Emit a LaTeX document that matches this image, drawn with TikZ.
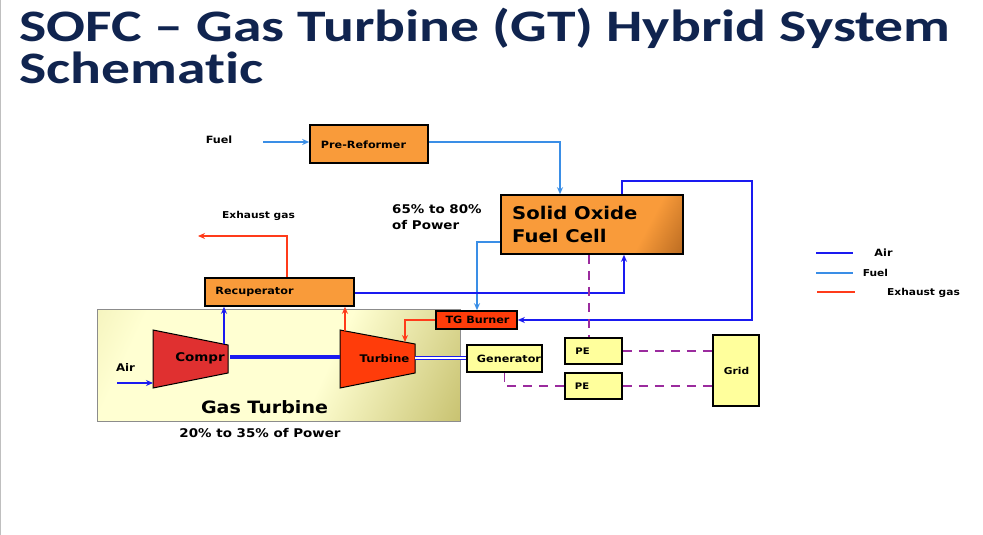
\documentclass[tikz,border=0pt]{standalone}
\usepackage{fontspec}
\usetikzlibrary{arrows.meta}
\newfontfamily\titlefont[Ligatures={TeX,NoCommon}]{Carlito}
\newfontfamily\lblfont{DejaVu Sans}

\definecolor{titleblue}{HTML}{10244F}
\definecolor{airblue}{HTML}{1A1AF0}
\definecolor{fuelblue}{HTML}{3A8EE6}
\definecolor{exhred}{HTML}{FF3B1A}
\definecolor{boxorange}{HTML}{F99B3A}
\definecolor{sofcdark}{HTML}{7A3A08}
\definecolor{burnerred}{HTML}{FF3C0A}
\definecolor{comprred}{HTML}{E03030}
\definecolor{elecyellow}{HTML}{FFFF9C}
\definecolor{elecpurple}{HTML}{9B2B9E}
\definecolor{gtlight}{HTML}{FFFFD2}
\definecolor{gtmid}{HTML}{E2DE98}
\definecolor{gtdark}{HTML}{A49A30}

\pgfdeclarehorizontalshading{sofcshade}{100bp}{color(0bp)=(sofcdark); color(16bp)=(boxorange); color(68bp)=(boxorange); color(100bp)=(sofcdark)}
\pgfdeclarehorizontalshading{gtshade}{100bp}{color(0bp)=(gtmid); color(25bp)=(gtlight); color(58bp)=(gtlight); color(100bp)=(gtdark)}

\tikzset{
  box/.style={draw=black, line width=1.6pt, inner sep=0pt},
  lbl/.style={font=\lblfont\bfseries\fontsize{10}{12}\selectfont, text=black, inner sep=0pt, xscale=1.12},
  ttl/.style={font=\titlefont\bfseries\fontsize{45}{45}\selectfont, text=titleblue, anchor=base west, inner sep=0pt, xscale=1.28},
  airln/.style={draw=airblue, line width=1.7pt},
  fuelln/.style={draw=fuelblue, line width=1.7pt},
  exhln/.style={draw=exhred, line width=1.7pt},
  elec/.style={draw=elecpurple, line width=1.8pt, dash pattern=on 9pt off 7pt},
  flow/.style={-{Stealth[length=7pt,width=6pt]}},
}

\begin{document}
\begin{tikzpicture}[x=1pt,y=-1pt]
\useasboundingbox (0,0) rectangle (983,535);
\fill[white] (0,0) rectangle (983,535);
\draw[black!25,line width=1pt] (0.5,0) -- (0.5,535);

\node[ttl] (title1) at (19,42) {SOFC \textendash{} Gas Turbine (GT) Hybrid System};
\node[ttl] (title2) at (19,84) {Schematic};

% gas turbine block
\node[draw=black!45,line width=1pt,shading=gtshade,shading angle=-25,minimum width=363pt,minimum height=112pt,inner sep=0pt] (gt) at (278.5,365) {};
\draw[black,line width=1pt,fill=comprred] (153,330) -- (228,345) -- (228,373) -- (153,388) -- cycle;
\draw[black,line width=1pt,fill=burnerred] (340,330) -- (415,344) -- (415,373) -- (340,388) -- cycle;
\coordinate (comptop) at (224,344);
\coordinate (compout) at (230,357);
\coordinate (turbin) at (340,357);
\coordinate (turbtop) at (345,331);
\coordinate (turbburn) at (405,342);
\coordinate (turbout) at (415,358);
\coordinate (airin) at (117,383);
\coordinate (comparr) at (153,383);

% boxes
\node[box,fill=boxorange,minimum width=118pt,minimum height=38pt] (pre) at (369,144) {};
\node[box,shading=sofcshade,shading angle=-28,minimum width=182pt,minimum height=59pt] (sofc) at (592,224.5) {};
\node[box,fill=boxorange,minimum width=149pt,minimum height=28pt] (recup) at (279.5,292) {};
\node[box,fill=burnerred,minimum width=81pt,minimum height=18pt] (burner) at (476.5,320) {};
\node[box,fill=elecyellow,minimum width=75pt,minimum height=27pt] (gen) at (504.5,358.5) {};
\node[box,fill=elecyellow,minimum width=57pt,minimum height=26pt] (pe1) at (593.5,351) {};
\node[box,fill=elecyellow,minimum width=57pt,minimum height=26pt] (pe2) at (593.5,386) {};
\node[box,fill=elecyellow,minimum width=46pt,minimum height=71pt] (grid) at (736,370.5) {};

% labels
\node[lbl] (fuellbl) at (219,140) {Fuel};
\node[lbl] (prelbl) at (363.5,145) {Pre-Reformer};
\node[lbl,font=\lblfont\bfseries\fontsize{12}{14}\selectfont,anchor=west] (pow1) at (392,209) {65\% to 80\%};
\node[lbl,font=\lblfont\bfseries\fontsize{12}{14}\selectfont,anchor=west] (pow2) at (392,225) {of Power};
\node[lbl,font=\lblfont\bfseries\fontsize{17.5}{20}\selectfont,anchor=west] (sofc1) at (512,212.5) {Solid Oxide};
\node[lbl,font=\lblfont\bfseries\fontsize{17.5}{20}\selectfont,anchor=west] (sofc2) at (512,236) {Fuel Cell};
\node[lbl,font=\lblfont\bfseries\fontsize{9.5}{12}\selectfont] (exhlbl) at (258.5,216) {Exhaust gas};
\node[lbl] (recuplbl) at (254.5,292) {Recuperator};
\node[lbl,font=\lblfont\bfseries\fontsize{12}{14}\selectfont] (complbl) at (200,358) {Compr};
\node[lbl,font=\lblfont\bfseries\fontsize{10.5}{12}\selectfont] (turblbl) at (384.5,358.5) {Turbine};
\node[lbl,font=\lblfont\bfseries\fontsize{10.5}{12}\selectfont] (airlbl) at (125.5,368) {Air};
\node[lbl,font=\lblfont\bfseries\fontsize{17}{20}\selectfont] (gtlbl) at (264.5,407) {Gas Turbine};
\node[lbl,font=\lblfont\bfseries\fontsize{12}{14}\selectfont] (gtpow) at (260,433) {20\% to 35\% of Power};
\node[lbl] (burnlbl) at (477.5,320) {TG Burner};
\node[lbl] (genlbl) at (509,359) {Generator};
\node[lbl,font=\lblfont\bfseries\fontsize{9}{11}\selectfont] (pe1lbl) at (582.5,351) {PE};
\node[lbl,font=\lblfont\bfseries\fontsize{9}{11}\selectfont] (pe2lbl) at (582,386) {PE};
\node[lbl,font=\lblfont\bfseries\fontsize{9.5}{11}\selectfont] (gridlbl) at (736.5,371) {Grid};

% fuel lines
\coordinate (fuelin) at (263,142);
\coordinate (prebend) at (560,142);
\coordinate (burnbend) at (477,242);
\draw[fuelln,flow] (fuelin) -- (pre.west |- fuelin);
\draw[fuelln,flow] (pre.east |- prebend) -- (prebend) -- (sofc.north -| prebend);
\draw[fuelln,flow] (sofc.west |- burnbend) -- (burnbend) -- (burner.north -| burnbend);

% air lines
\coordinate (airtop) at (622,181);
\coordinate (aircorner) at (752,181);
\coordinate (sofcin) at (624,293);
\draw[airln,flow] (sofc.north -| airtop) -- (airtop) -- (aircorner) |- (burner.east);
\draw[airln,flow] (recup.east |- sofcin) -- (sofcin) -- (sofc.south -| sofcin);
\draw[airln,flow] (comptop) -- (recup.south -| comptop);
\draw[airln,flow] (airin) -- (comparr);
\draw[airblue,line width=4pt] (compout) -- (turbin);
\draw[airblue,line width=1.5pt,double=white,double distance=1.6pt] (turbout) -- (gen.west |- turbout);

% exhaust lines
\coordinate (exhtop) at (287,236);
\coordinate (exhout) at (198,236);
\draw[exhln,flow] (recup.north -| exhtop) -- (exhtop) -- (exhout);
\draw[exhln,flow] (turbtop) -- (recup.south -| turbtop);
\draw[exhln,flow] (burner.west) -| (turbburn);

% electrical links
\coordinate (sofcpe) at (589,254);
\draw[elec] (sofc.south -| sofcpe) -- (pe1.north -| sofcpe);
\draw[elec] (pe1.east) -- (grid.west |- pe1.east);
\draw[elec] (pe2.east) -- (grid.west |- pe2.east);
\draw[elec] (gen.south) |- (pe2.west);

% legend
\coordinate (legair1) at (816,253);
\coordinate (legair2) at (853,253);
\coordinate (legfuel1) at (816,273);
\coordinate (legfuel2) at (853,273);
\coordinate (legexh1) at (817,292);
\coordinate (legexh2) at (855,292);
\draw[airblue,line width=2.6pt] (legair1) -- (legair2);
\draw[fuelblue,line width=2.4pt] (legfuel1) -- (legfuel2);
\draw[exhred,line width=1.4pt] (legexh1) -- (legexh2);
\node[lbl] (legairlbl) at (883.5,253) {Air};
\node[lbl,font=\lblfont\bfseries\fontsize{9.5}{11}\selectfont] (legfuellbl) at (875.5,273) {Fuel};
\node[lbl,font=\lblfont\bfseries\fontsize{9.5}{11}\selectfont] (legexhlbl) at (923.5,293) {Exhaust gas};
\end{tikzpicture}
\end{document}
